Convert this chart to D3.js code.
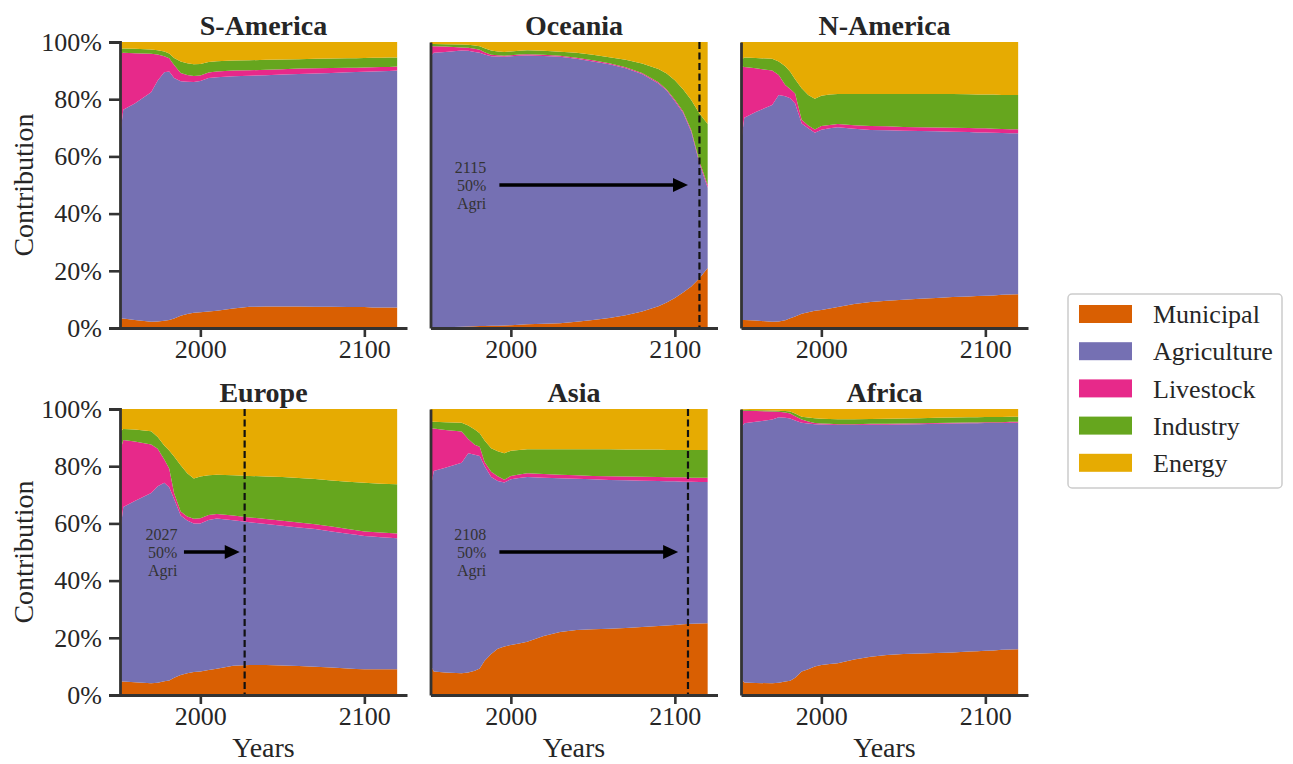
<!DOCTYPE html>
<html>
<head>
<meta charset="utf-8">
<script src="https://cdn.jsdelivr.net/npm/d3@7"></script>
<style>
  body { margin: 0; background: #fff; }
  text { font-family: "Liberation Serif", "Times New Roman", serif; }
</style>
</head>
<body>
<svg id="chart" width="1293" height="764"></svg>
<script>
// shares (%) per sector
var years = [1951, 1953, 1960, 1970, 1974, 1978, 1981, 1984, 1988, 1992, 1996, 2000, 2005, 2010,
             2020, 2030, 2040, 2050, 2060, 2070, 2080, 2090, 2095, 2100, 2105, 2110, 2115, 2120];

var sectors = ['Municipal', 'Agriculture', 'Livestock', 'Industry', 'Energy'];
var colors = ['#d95f02', '#7570b3', '#e7298a', '#66a61e', '#e6ab02'];

var sAmerica = [
  [3.3, 3.3, 2.8, 2.2, 2.3, 2.5, 2.8, 3.3, 4.3, 4.9, 5.3, 5.5, 5.8, 6.0, 6.8, 7.4, 7.5, 7.5, 7.5, 7.4, 7.4, 7.3, 7.3, 7.3, 7.2, 7.2, 7.2, 7.2],
  [63.7, 73.0, 75.7, 80.2, 84.2, 86.9, 86.9, 84.1, 82.0, 81.2, 80.7, 80.9, 81.6, 81.7, 81.2, 80.8, 80.9, 81.1, 81.3, 81.6, 81.8, 82.1, 82.2, 82.3, 82.5, 82.6, 82.7, 82.8],
  [29.0, 19.9, 17.6, 13.5, 9.1, 5.6, 4.6, 4.6, 2.9, 2.4, 2.1, 1.9, 1.9, 2.0, 2.0, 1.9, 1.9, 1.9, 1.9, 1.8, 1.7, 1.6, 1.5, 1.5, 1.5, 1.5, 1.4, 1.4],
  [1.7, 1.5, 1.5, 1.5, 1.5, 1.7, 1.7, 2.4, 4.0, 4.1, 4.1, 4.0, 3.7, 3.6, 3.5, 3.5, 3.5, 3.4, 3.3, 3.3, 3.3, 3.3, 3.3, 3.3, 3.3, 3.2, 3.3, 3.2],
  [2.3, 2.3, 2.4, 2.6, 2.9, 3.3, 4.0, 5.6, 6.8, 7.4, 7.8, 7.7, 7.0, 6.7, 6.5, 6.4, 6.2, 6.1, 6.0, 5.9, 5.8, 5.7, 5.7, 5.6, 5.5, 5.5, 5.4, 5.4]
];

var oceania = [
  [0.2, 0.2, 0.3, 0.4, 0.5, 0.6, 0.7, 0.7, 0.8, 0.8, 0.9, 1.0, 1.1, 1.3, 1.5, 1.7, 2.2, 2.8, 3.5, 4.5, 5.8, 7.6, 8.9, 10.5, 12.4, 14.5, 17.4, 21.0],
  [94.8, 96.0, 96.2, 96.6, 96.4, 95.9, 95.5, 94.9, 94.2, 94.1, 93.9, 94.0, 94.1, 94.0, 93.6, 93.1, 91.9, 90.4, 88.7, 86.3, 83.0, 77.9, 74.1, 68.8, 62.9, 54.1, 40.1, 28.0],
  [3.5, 2.3, 1.9, 1.1, 1.1, 1.1, 1.1, 0.8, 0.5, 0.5, 0.4, 0.4, 0.4, 0.4, 0.4, 0.4, 0.4, 0.4, 0.4, 0.4, 0.4, 0.4, 0.4, 0.5, 0.5, 0.6, 0.7, 1.0],
  [0.8, 0.8, 0.8, 1.0, 1.0, 1.2, 1.2, 1.4, 1.5, 1.3, 1.3, 1.3, 1.3, 1.4, 1.4, 1.4, 1.7, 1.9, 2.1, 2.6, 3.3, 4.7, 5.6, 6.8, 7.7, 10.5, 16.8, 21.3],
  [0.7, 0.7, 0.8, 0.9, 1.0, 1.2, 1.5, 2.2, 3.0, 3.3, 3.5, 3.3, 3.1, 2.9, 3.1, 3.4, 3.8, 4.5, 5.3, 6.2, 7.5, 9.4, 11.0, 13.4, 16.5, 20.3, 25.0, 28.7]
];

var nAmerica = [
  [2.8, 2.8, 2.6, 2.2, 2.3, 2.7, 3.4, 4.0, 5.0, 5.5, 6.0, 6.3, 6.8, 7.3, 8.4, 9.1, 9.5, 9.9, 10.2, 10.5, 10.8, 11.0, 11.2, 11.3, 11.4, 11.6, 11.7, 11.8],
  [61.8, 70.7, 72.9, 75.8, 79.2, 78.3, 76.9, 74.5, 66.5, 64.3, 62.3, 63.0, 63.0, 62.9, 61.3, 60.1, 59.6, 59.1, 58.7, 58.3, 57.8, 57.5, 57.2, 57.1, 56.9, 56.6, 56.4, 56.3],
  [26.9, 17.8, 15.3, 12.0, 7.0, 4.0, 3.3, 3.5, 1.3, 1.0, 1.1, 1.3, 1.2, 1.1, 1.2, 1.4, 1.4, 1.3, 1.3, 1.3, 1.4, 1.4, 1.4, 1.4, 1.4, 1.4, 1.4, 1.4],
  [2.2, 3.3, 3.6, 4.1, 4.7, 6.5, 6.0, 5.0, 11.0, 10.7, 10.8, 10.6, 10.6, 10.5, 10.9, 11.2, 11.3, 11.5, 11.6, 11.7, 11.8, 11.8, 11.8, 11.8, 11.9, 11.9, 12.0, 12.0],
  [6.3, 5.4, 5.6, 5.9, 6.8, 8.5, 10.4, 13.0, 16.2, 18.5, 19.8, 18.8, 18.4, 18.2, 18.2, 18.2, 18.2, 18.2, 18.2, 18.2, 18.2, 18.3, 18.4, 18.4, 18.4, 18.5, 18.5, 18.5]
];

var europe = [
  [4.7, 4.7, 4.5, 4.1, 4.3, 4.8, 5.1, 6.0, 7.0, 7.6, 8.0, 8.2, 8.7, 9.2, 10.2, 10.5, 10.5, 10.3, 10.1, 9.9, 9.6, 9.3, 9.1, 9.0, 9.0, 9.0, 9.0, 9.0],
  [51.7, 61.0, 63.3, 66.5, 68.7, 69.4, 67.5, 62.5, 55.8, 53.4, 52.0, 51.8, 52.5, 52.5, 50.9, 49.9, 49.3, 48.9, 48.5, 48.1, 47.6, 47.1, 46.9, 46.6, 46.4, 46.2, 46.0, 45.8],
  [28.6, 23.5, 20.8, 17.0, 13.1, 8.1, 6.6, 2.0, 1.4, 1.4, 1.6, 1.8, 1.7, 1.6, 1.7, 1.7, 1.7, 1.7, 1.7, 1.7, 1.7, 1.6, 1.6, 1.6, 1.6, 1.6, 1.6, 1.7],
  [7.0, 3.8, 4.2, 4.6, 4.1, 4.9, 6.3, 12.9, 16.1, 15.1, 14.1, 14.6, 13.9, 13.7, 14.0, 14.5, 14.9, 15.3, 15.6, 15.8, 16.1, 16.6, 16.8, 17.0, 17.0, 17.1, 17.2, 17.2],
  [8.0, 7.0, 7.2, 7.8, 9.8, 12.8, 14.5, 16.6, 19.7, 22.5, 24.3, 23.6, 23.2, 23.0, 23.2, 23.4, 23.6, 23.8, 24.1, 24.5, 25.0, 25.4, 25.6, 25.8, 26.0, 26.1, 26.2, 26.3]
];

var asia = [
  [10.5, 8.2, 7.9, 7.6, 7.9, 8.5, 9.3, 12.0, 14.3, 16.2, 17.0, 17.5, 18.0, 18.6, 20.6, 22.0, 22.7, 23.0, 23.2, 23.4, 23.8, 24.1, 24.3, 24.5, 24.7, 24.9, 25.0, 25.1],
  [61.5, 70.1, 71.6, 73.6, 76.6, 75.5, 74.3, 68.0, 61.9, 58.6, 57.3, 57.9, 57.9, 57.6, 55.4, 53.8, 52.9, 52.4, 52.0, 51.7, 51.1, 50.7, 50.4, 50.2, 49.9, 49.7, 49.5, 49.4],
  [21.2, 14.9, 13.2, 10.9, 5.0, 3.5, 3.2, 1.5, 1.9, 1.7, 1.0, 1.2, 1.2, 1.3, 1.3, 1.2, 1.2, 1.2, 1.3, 1.3, 1.4, 1.4, 1.4, 1.4, 1.5, 1.4, 1.5, 1.5],
  [2.3, 2.3, 2.7, 3.1, 4.7, 5.3, 4.7, 7.5, 8.2, 8.7, 9.2, 8.8, 8.6, 8.4, 8.6, 8.9, 9.1, 9.3, 9.4, 9.4, 9.5, 9.6, 9.6, 9.6, 9.6, 9.7, 9.7, 9.7],
  [4.5, 4.5, 4.6, 4.8, 5.8, 7.2, 8.5, 11.0, 13.7, 14.8, 15.5, 14.6, 14.3, 14.1, 14.1, 14.1, 14.1, 14.1, 14.1, 14.2, 14.2, 14.2, 14.3, 14.3, 14.3, 14.3, 14.3, 14.3]
];

var africa = [
  [5.8, 4.4, 4.2, 4.1, 4.3, 4.7, 5.0, 6.0, 8.2, 9.0, 10.0, 10.5, 10.8, 11.1, 12.4, 13.4, 14.0, 14.3, 14.5, 14.7, 14.9, 15.2, 15.3, 15.5, 15.6, 15.8, 15.9, 16.0],
  [87.4, 90.6, 91.3, 92.2, 92.8, 92.2, 91.7, 90.0, 87.0, 85.9, 84.7, 84.1, 83.7, 83.3, 82.0, 81.1, 80.5, 80.3, 80.2, 80.1, 80.0, 79.8, 79.7, 79.6, 79.5, 79.3, 79.3, 79.2],
  [6.2, 4.4, 3.8, 2.8, 1.9, 1.9, 1.7, 1.5, 1.1, 0.7, 0.4, 0.3, 0.3, 0.3, 0.3, 0.3, 0.3, 0.3, 0.3, 0.3, 0.3, 0.3, 0.3, 0.3, 0.3, 0.3, 0.3, 0.3],
  [0.3, 0.3, 0.3, 0.4, 0.4, 0.5, 0.7, 0.9, 1.0, 1.4, 1.7, 1.7, 1.7, 1.7, 1.7, 1.7, 1.8, 1.8, 1.8, 1.8, 1.8, 1.8, 1.8, 1.8, 1.8, 1.8, 1.8, 1.8],
  [0.3, 0.3, 0.4, 0.5, 0.6, 0.7, 0.9, 1.6, 2.7, 3.0, 3.2, 3.4, 3.5, 3.6, 3.6, 3.5, 3.4, 3.3, 3.2, 3.1, 3.0, 2.9, 2.9, 2.8, 2.8, 2.8, 2.7, 2.7]
];

var regions = ['S-America', 'Oceania', 'N-America', 'Europe', 'Asia', 'Africa'];
var regionData = [sAmerica, oceania, nAmerica, europe, asia, africa];

// year at which agriculture falls to 50%
var markRegion = ['Oceania', 'Europe', 'Asia'];
var markYear = [2115, 2027, 2108];
var arrowFrom = [1993, 1990, 1993];
var arrowTo = [2108, 2024, 2102];
var labelAt = [1985, 1986, 1985];

var colX = [120, 430.5, 741],
    rowY = [42, 409],
    pw = 287,
    ph = 286,
    ink = '#262626';

var svg = d3.select('#chart');

var x = d3.scaleLinear().domain([1951, 2126]).range([0, pw]);
var y = d3.scaleLinear().domain([0, 100]).range([ph, 0]);

var stack = d3.stack().keys(sectors);
var area = d3.area()
  .x(function(d) { return x(d.data.year); })
  .y0(function(d) { return y(d[0]); })
  .y1(function(d) { return y(d[1]); });

regions.forEach(function(name, k) {
  var col = k % 3, row = Math.floor(k / 3);
  var g = svg.append('g').attr('transform', 'translate(' + colX[col] + ',' + rowY[row] + ')');
  var series = regionData[k];

  var rows = years.map(function(yr, i) {
    var r = { year: yr };
    sectors.forEach(function(s, j) { r[s] = series[j][i]; });
    return r;
  });

  g.selectAll('path.layer')
    .data(stack(rows))
    .enter().append('path')
      .attr('class', 'layer')
      .attr('fill', function(d, i) { return colors[i]; })
      .attr('d', area);

  // annotation
  var m = markRegion.indexOf(name);
  if (m >= 0) {
    g.append('line')
      .attr('x1', x(markYear[m])).attr('x2', x(markYear[m]))
      .attr('y1', 0).attr('y2', ph)
      .attr('stroke', '#111').attr('stroke-width', 2.2)
      .attr('stroke-dasharray', '7,3.5');

    var ay = y(50), tip = x(arrowTo[m]), head = 15;
    g.append('line')
      .attr('x1', x(arrowFrom[m])).attr('x2', tip - head + 1)
      .attr('y1', ay).attr('y2', ay)
      .attr('stroke', '#000').attr('stroke-width', 3.5);
    g.append('path')
      .attr('d', 'M' + tip + ',' + ay + 'L' + (tip - head) + ',' + (ay - 7) +
                 'L' + (tip - head) + ',' + (ay + 7) + 'Z')
      .attr('fill', '#000');

    g.append('g').selectAll('text')
      .data([String(markYear[m]), '50%', 'Agri'])
      .enter().append('text')
        .attr('x', x(labelAt[m]))
        .attr('y', function(d, i) { return ay + (i - 1) * 18; })
        .attr('dy', '0.35em')
        .attr('text-anchor', 'end')
        .attr('font-size', 16)
        .attr('fill', '#333')
        .text(function(d) { return d; });
  }

  // axes
  var xAxis = d3.axisBottom(x).tickValues([2000, 2100]).tickFormat(d3.format('d'))
    .tickSize(9).tickSizeOuter(0).tickPadding(3);
  var gx = g.append('g').attr('transform', 'translate(0,' + ph + ')').call(xAxis);

  var yAxis = d3.axisLeft(y).tickSizeOuter(0);
  if (col === 0) {
    yAxis.tickValues([0, 20, 40, 60, 80, 100]).tickFormat(function(d) { return d + '%'; })
      .tickSize(11).tickPadding(7);
  } else {
    yAxis.tickValues([]);
  }
  var gy = g.append('g').call(yAxis);

  [gx, gy].forEach(function(a) {
    a.select('.domain').attr('stroke', '#333').attr('stroke-width', 2.8);
    a.selectAll('.tick line').attr('stroke', '#333').attr('stroke-width', 2.6);
    a.selectAll('.tick text')
      .attr('fill', ink)
      .attr('font-size', 26)
      .style('font-family', '"Liberation Serif", "Times New Roman", serif');
  });

  g.append('text')
    .attr('x', pw / 2).attr('y', -7)
    .attr('text-anchor', 'middle')
    .attr('font-size', 28).attr('font-weight', 'bold')
    .attr('fill', ink)
    .text(name);

  if (col === 0) {
    g.append('text')
      .attr('transform', 'translate(-87,' + (ph / 2) + ') rotate(-90)')
      .attr('text-anchor', 'middle')
      .attr('font-size', 28)
      .attr('fill', ink)
      .text('Contribution');
  }
  if (row === 1) {
    g.append('text')
      .attr('x', pw / 2).attr('y', ph + 62)
      .attr('text-anchor', 'middle')
      .attr('font-size', 28)
      .attr('fill', ink)
      .text('Years');
  }
});

// legend
var lg = svg.append('g').attr('transform', 'translate(1068,294)');
lg.append('rect')
  .attr('width', 214).attr('height', 194).attr('rx', 4)
  .attr('fill', '#fff').attr('stroke', '#ccc').attr('stroke-width', 1.5);

var item = lg.selectAll('g.item')
  .data(sectors)
  .enter().append('g')
    .attr('class', 'item')
    .attr('transform', function(d, i) { return 'translate(0,' + (20 + i * 37.2) + ')'; });
item.append('rect')
  .attr('x', 11).attr('y', -9).attr('width', 53).attr('height', 18)
  .attr('fill', function(d, i) { return colors[i]; });
item.append('text')
  .attr('x', 85).attr('dy', '0.35em')
  .attr('font-size', 26)
  .attr('fill', ink)
  .text(function(d) { return d; });
</script>
</body>
</html>
